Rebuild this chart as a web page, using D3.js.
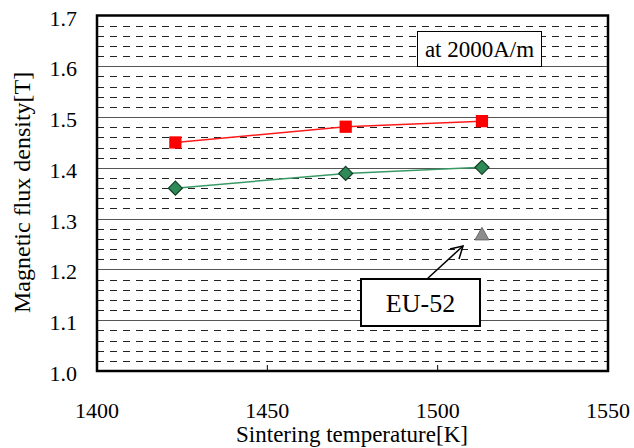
<!DOCTYPE html>
<html>
<head>
<meta charset="utf-8">
<script src="https://cdn.jsdelivr.net/npm/d3@7"></script>
<style>
  body { margin: 0; background: #fff; }
  svg text { font-family: "Times New Roman", "Liberation Serif", "DejaVu Serif", serif; fill: #000; }
</style>
</head>
<body>
<div id="chart"></div>
<script>
// values
var temps = [1423, 1473, 1513];
var fluxRed = [1.450, 1.481, 1.492];
var fluxGreen = [1.360, 1.389, 1.401];
var euTemp = [1513];
var euFlux = [1.270];
var xTicks = [1400, 1450, 1500, 1550];
var yTicks = [1.0, 1.1, 1.2, 1.3, 1.4, 1.5, 1.6, 1.7];

var W = 634, H = 448;
var plotL = 97, plotR = 608, plotT = 15.5, plotB = 371;
var serif = "'Liberation Serif', 'Times New Roman', serif";

var svg = d3.select("#chart").append("svg")
    .attr("width", W).attr("height", H)
    .attr("font-family", serif);

var x = d3.scaleLinear().domain([1400, 1550]).range([plotL, plotR]);
var y = d3.scaleLinear().domain([1.0, 1.7]).range([plotB, plotT]);

// minor dashed grid every 0.02
var minor = d3.range(1.02, 1.7, 0.02).filter(function(v) {
    return Math.abs(v * 10 - Math.round(v * 10)) > 0.01;
});
svg.append("g").selectAll("line")
    .data(minor).enter().append("line")
    .attr("x1", plotL).attr("x2", plotR)
    .attr("y1", function(d) { return Math.round(y(d)) + 0.5; })
    .attr("y2", function(d) { return Math.round(y(d)) + 0.5; })
    .attr("stroke", "#222")
    .attr("stroke-width", 1)
    .attr("stroke-dasharray", "7,6");

// major grid lines
svg.append("g").selectAll("line")
    .data(yTicks.slice(1, -1)).enter().append("line")
    .attr("x1", plotL).attr("x2", plotR)
    .attr("y1", function(d) { return Math.round(y(d)) + 0.5; })
    .attr("y2", function(d) { return Math.round(y(d)) + 0.5; })
    .attr("stroke", "#555")
    .attr("stroke-width", 1);

// bottom inner ticks
svg.append("g").selectAll("line")
    .data(xTicks.slice(1, -1)).enter().append("line")
    .attr("x1", function(d) { return x(d); })
    .attr("x2", function(d) { return x(d); })
    .attr("y1", plotB).attr("y2", plotB - 6)
    .attr("stroke", "#000").attr("stroke-width", 1);

// frame
svg.append("rect")
    .attr("x", plotL).attr("y", plotT)
    .attr("width", plotR - plotL).attr("height", plotB - plotT)
    .attr("fill", "none").attr("stroke", "#000").attr("stroke-width", 2.5);

// tick labels
svg.append("g").selectAll("text")
    .data(yTicks).enter().append("text")
    .attr("x", 77)
    .attr("y", function(d) { return y(d) + 10; })
    .attr("text-anchor", "end")
    .style("font-family", serif)
    .style("font-size", "22px")
    .text(function(d) { return d3.format(".1f")(d); });

svg.append("g").selectAll("text")
    .data(xTicks).enter().append("text")
    .attr("x", function(d) { return x(d); })
    .attr("y", 418)
    .attr("text-anchor", "middle")
    .style("font-family", serif)
    .style("font-size", "22px")
    .text(function(d) { return d; });

// axis titles
svg.append("text")
    .attr("x", 352).attr("y", 442)
    .attr("text-anchor", "middle")
    .style("font-family", serif)
    .style("font-size", "23px")
    .text("Sintering temperature[K]");

svg.append("text")
    .attr("transform", "translate(30,313) rotate(-90)")
    .attr("text-anchor", "start")
    .style("font-family", serif)
    .style("font-size", "24px")
    .text("Magnetic flux density[T]");

// series lines
var line = d3.line()
    .x(function(d) { return x(d[0]); })
    .y(function(d) { return y(d[1]); });

var redData = d3.zip(temps, fluxRed);
var greenData = d3.zip(temps, fluxGreen);

svg.append("path").datum(redData)
    .attr("d", line).attr("fill", "none")
    .attr("stroke", "#ff1a1a").attr("stroke-width", 1.5);
svg.append("path").datum(greenData)
    .attr("d", line).attr("fill", "none")
    .attr("stroke", "#3a9a66").attr("stroke-width", 1.5);

// markers
svg.append("g").selectAll("path")
    .data(redData).enter().append("path")
    .attr("transform", function(d) { return "translate(" + x(d[0]) + "," + y(d[1]) + ")"; })
    .attr("d", d3.symbol().type(d3.symbolSquare).size(150))
    .attr("fill", "#ff0000");

svg.append("g").selectAll("path")
    .data(greenData).enter().append("path")
    .attr("transform", function(d) { return "translate(" + x(d[0]) + "," + y(d[1]) + ")"; })
    .attr("d", "M0,-7L7,0L0,7L-7,0Z")
    .attr("fill", "#2e8b57")
    .attr("stroke", "#143d24").attr("stroke-width", 1.2);

svg.append("g").selectAll("path")
    .data(d3.zip(euTemp, euFlux)).enter().append("path")
    .attr("transform", function(d) { return "translate(" + x(d[0]) + "," + y(d[1]) + ")"; })
    .attr("d", "M0,-6.5L7,6L-7,6Z")
    .attr("fill", "#8c8c8c")
    .attr("stroke", "#666").attr("stroke-width", 1);

// box with field strength
svg.append("rect")
    .attr("x", 417.5).attr("y", 31.5)
    .attr("width", 124).attr("height", 35)
    .attr("fill", "#fff").attr("stroke", "#000").attr("stroke-width", 1);
svg.append("text")
    .attr("x", 479.5).attr("y", 57)
    .attr("text-anchor", "middle")
    .style("font-family", serif)
    .style("font-size", "23px")
    .text("at 2000A/m");

// EU-52 annotation
svg.append("line")
    .attr("x1", 427).attr("y1", 279)
    .attr("x2", 463).attr("y2", 246)
    .attr("stroke", "#000").attr("stroke-width", 1.5);
svg.append("path")
    .attr("d", "M450,249L463,246L459,259")
    .attr("fill", "none").attr("stroke", "#000").attr("stroke-width", 1.5);

svg.append("rect")
    .attr("x", 361).attr("y", 279)
    .attr("width", 119).attr("height", 47)
    .attr("fill", "#fff").attr("stroke", "#000").attr("stroke-width", 2);
svg.append("text")
    .attr("x", 420.5).attr("y", 312)
    .attr("text-anchor", "middle")
    .style("font-family", serif)
    .style("font-size", "26px")
    .text("EU-52");
</script>
</body>
</html>
